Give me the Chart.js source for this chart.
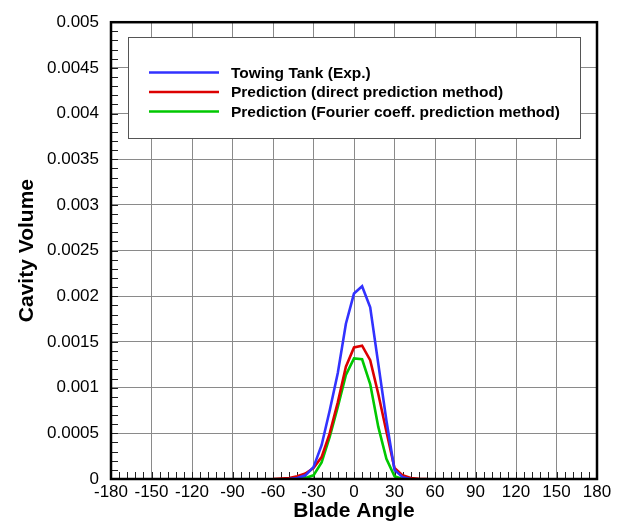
<!DOCTYPE html>
<html>
<head>
<meta charset="utf-8">
<script src="https://cdn.jsdelivr.net/npm/chart.js@4/dist/chart.umd.min.js"></script>
<style>
  html, body { margin: 0; padding: 0; background: #fff; }
  #wrap { width: 624px; height: 523px; position: relative; }
</style>
</head>
<body>
<div id="wrap"><canvas id="c" width="624" height="523"></canvas></div>
<script>
// ---- data ----
const seriesNames = [
  "Towing Tank (Exp.)",
  "Prediction (direct prediction method)",
  "Prediction (Fourier coeff. prediction method)"
];
const seriesColors = ["#3232ff", "#dc0000", "#00c800"];

const bladeAngle = [-60, -54, -48, -42, -36, -30, -24, -18, -12, -6, 0, 6, 12, 18, 24, 30, 36, 42, 48, 54];

const towingTank = [null, null, 0, 0.00001, 0.00004, 0.00013, 0.00037, 0.00075, 0.00116, 0.0017,
                    0.00203, 0.00211, 0.00188, 0.00126, 0.00064, 0.0001, 0.00002, 0, null, null];
const directPred = [0, 0.000005, 0.00001, 0.00003, 0.00006, 0.00012, 0.00024, 0.0005, 0.00084, 0.00123,
                    0.00144, 0.00146, 0.0013, 0.00093, 0.00052, 0.00012, 0.00004, 0.00001, 0.000003, 0];
const fourierPred = [null, null, 0, 0.000003, 0.00001, 0.00004, 0.00018, 0.00046, 0.00079, 0.00114,
                     0.00132, 0.00131, 0.00104, 0.00057, 0.00022, 0.00003, 0, 0, null, null];

const xTickValues = [-180, -150, -120, -90, -60, -30, 0, 30, 60, 90, 120, 150, 180];
const yTickLabels = ["0", "0.0005", "0.001", "0.0015", "0.002", "0.0025", "0.003", "0.0035", "0.004", "0.0045", "0.005"];

const seriesValues = [towingTank, directPred, fourierPred];

function toPoints(vals) {
  const pts = [];
  for (let i = 0; i < bladeAngle.length; i++) {
    if (vals[i] !== null) pts.push({ x: bladeAngle[i], y: vals[i] });
  }
  return pts;
}

const FONT = "'Liberation Sans', Arial, sans-serif";

// custom overlay: thick frame, inward minor ticks, boxed legend
const overlay = {
  id: 'overlay',
  beforeDatasetsDraw(chart) {
    const { ctx, chartArea: a } = chart;
    const xs = chart.scales.x, ys = chart.scales.y;
    ctx.save();
    // minor ticks
    ctx.strokeStyle = '#222';
    ctx.lineWidth = 1;
    ctx.beginPath();
    for (let v = xs.min; v <= xs.max + 1e-9; v += 6) {
      const px = Math.round(xs.getPixelForValue(v)) + 0.5;
      ctx.moveTo(px, a.bottom);
      ctx.lineTo(px, a.bottom - 7);
    }
    for (let k = 0; k <= 50; k++) {
      const py = Math.round(ys.getPixelForValue(k * 0.0001)) + 0.5;
      ctx.moveTo(a.left, py);
      ctx.lineTo(a.left + 7, py);
    }
    ctx.stroke();

    // legend box
    const bx = 128.5, by = 37.5, bw = 452, bh = 101;
    ctx.fillStyle = '#fff';
    ctx.fillRect(bx, by, bw, bh);
    ctx.strokeStyle = '#555';
    ctx.lineWidth = 1;
    ctx.strokeRect(bx, by, bw, bh);
    const rows = [72.5, 92, 111.5];
    ctx.font = "bold 15.5px " + FONT;
    ctx.textBaseline = 'middle';
    ctx.textAlign = 'left';
    chart.data.datasets.forEach((ds, i) => {
      ctx.strokeStyle = ds.borderColor;
      ctx.lineWidth = 2.5;
      ctx.beginPath();
      ctx.moveTo(149, rows[i]);
      ctx.lineTo(219, rows[i]);
      ctx.stroke();
      ctx.fillStyle = '#000';
      ctx.fillText(ds.label, 231, rows[i] + 1);
    });
    ctx.restore();
  },
  afterDatasetsDraw(chart) {
    const { ctx, chartArea: a } = chart;
    ctx.save();
    ctx.strokeStyle = '#000';
    ctx.lineWidth = 2.5;
    ctx.strokeRect(a.left, a.top, a.right - a.left, a.bottom - a.top);
    ctx.restore();
  }
};

new Chart(document.getElementById('c'), {
  type: 'line',
  data: {
    datasets: seriesValues.map((vals, i) => ({
      label: seriesNames[i],
      data: toPoints(vals),
      borderColor: seriesColors[i],
      backgroundColor: seriesColors[i],
      borderWidth: 2.6,
      pointRadius: 0,
      tension: 0,
      fill: false
    }))
  },
  options: {
    responsive: false,
    animation: false,
    devicePixelRatio: 1,
    layout: { padding: { left: 0, right: 27, top: 19, bottom: 0 } },
    plugins: {
      legend: { display: false },
      tooltip: { enabled: false }
    },
    scales: {
      x: {
        type: 'linear',
        min: -180, max: 180,
        afterBuildTicks(scale) { scale.ticks = xTickValues.map(v => ({ value: v })); },
        afterFit(scale) { scale.height = 44; },
        grid: { color: '#8a8a8a', lineWidth: 1, drawTicks: false },
        border: { display: false },
        ticks: {
          padding: 3,
          color: '#000',
          font: { family: FONT, size: 17 },
          maxRotation: 0,
          autoSkip: false,
          callback: (v) => String(v)
        },
        title: {
          display: true,
          text: 'Blade Angle',
          color: '#000',
          font: { family: FONT, size: 21, weight: 'bold' },
          padding: { top: 0, bottom: -1 }
        }
      },
      y: {
        type: 'linear',
        min: 0, max: 0.005,
        afterBuildTicks(scale) { scale.ticks = yTickLabels.map(s => ({ value: parseFloat(s) })); },
        afterFit(scale) { scale.width = 111; },
        grid: { color: '#8a8a8a', lineWidth: 1, drawTicks: false },
        border: { display: false },
        ticks: {
          padding: 12,
          color: '#000',
          font: { family: FONT, size: 17 },
          autoSkip: false,
          callback: (v, idx) => yTickLabels[idx]
        },
        title: {
          display: true,
          text: 'Cavity Volume',
          color: '#000',
          font: { family: FONT, size: 21, weight: 'bold' },
          padding: { top: 15, bottom: 0 }
        }
      }
    }
  },
  plugins: [overlay]
});
</script>
</body>
</html>
